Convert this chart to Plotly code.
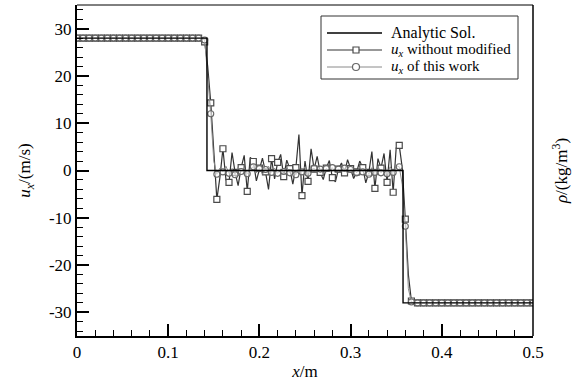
import plotly.graph_objects as go

# ---- data ----
dx = 1.0 / 300.0
n_pts = 151
x_grid = [i * dx for i in range(n_pts)]

analytic_x = [0.0, 0.1425, 0.1425, 0.3575, 0.3575, 0.5]
analytic_y = [28.0, 28.0, 0.0, 0.0, -28.0, -28.0]

# u_x without modified (index 0..150)
ux_without = ([28.0] * 42 +
              [27.2, 22.0, 14.3, 3.0, -6.1, -1.5, 4.6, -2.0, -2.5, 3.8,
               -0.4, -3.2, 0.6, 3.2, -4.4, 2.8, 1.9, -2.2, 0.5, 2.6,
               -0.3, -4.0, 2.5, -1.8, 1.7, 3.4, -1.3, 2.2, 0.4, -2.9,
               0.6, 7.6, -5.3, 2.0, -2.3, 4.6, 0.3, 3.0, -0.4, -1.9,
               0.5, 2.1, -1.5, -2.4, 0.3, 1.6, -0.5, 2.3, 0.4, -1.7,
               -0.3, 2.0, 0.6, -2.6, -0.4, 4.0, -3.8, 2.5, 0.5, 3.6,
               -2.5, 4.4, -4.6, 4.8, 5.3, 0.5, -10.3, -22.0, -27.6] +
              [-28.0] * 40)

# u_x of this work
ux_this = ([28.0] * 42 +
           [27.6, 20.0, 12.0, 2.0, -0.8, 0.5, -0.3, 0.9, -0.6, 0.4,
            -0.9, 0.7, -0.2, 0.6, -0.7, 0.3, 0.8, -0.5, 0.4, -0.8,
            0.2, 0.9, -0.4, 0.5, -0.6, 0.3, -0.2, 0.7, -0.5, 0.4,
            -0.9, 0.6, -0.3, 0.8, -0.6, 0.2, 0.5, -0.4, 0.3, -0.7,
            0.4, -0.2, 0.6, -0.5, 0.3, -0.3, 0.5, -0.6, 0.2, 0.4,
            -0.5, 0.7, -0.3, 0.5, -0.8, 0.6, -0.4, 0.9, -0.5, 0.3,
            -0.7, 0.8, -0.4, 1.0, 0.8, -3.0, -11.8, -25.0, -27.8] +
           [-28.0] * 40)

marker_every = 2

x_tickvals = [0, 0.1, 0.2, 0.3, 0.4, 0.5]
x_ticktext = ["0", "0.1", "0.2", "0.3", "0.4", "0.5"]
y_tickvals = [-30, -20, -10, 0, 10, 20, 30]
y_ticktext = ["-30", "-20", "-10", "0", "10", "20", "30"]

legend_labels = ["Analytic Sol.",
                 "<i>u</i><sub><i>x</i></sub> without modified",
                 "<i>u</i><sub><i>x</i></sub> of this work"]

FONT = "Times New Roman, Liberation Serif, serif"
W_LINE = "#333333"
T_LINE = "#8a8a8a"
MK_EDGE = "#4a4a4a"
C_EDGE = "#666666"

# plot-area geometry in pixels (for the hand-made legend box)
W, H = 584, 385
ML, MR, MT, MB = 77, 51, 5, 49
PW, PH = W - ML - MR, H - MT - MB


def px(xp):
    return (xp - ML) / PW


def py(yp):
    return (H - MB - yp) / PH


fig = go.Figure()

mk_x = x_grid[::marker_every]

fig.add_trace(go.Scatter(x=x_grid, y=ux_without, mode="lines",
                         line=dict(color=W_LINE, width=1.2),
                         showlegend=False, hoverinfo="skip"))
fig.add_trace(go.Scatter(x=mk_x, y=ux_without[::marker_every], mode="markers",
                         marker=dict(symbol="square", size=6, color="white",
                                     line=dict(color=MK_EDGE, width=1.2)),
                         showlegend=False, hoverinfo="skip"))
fig.add_trace(go.Scatter(x=x_grid, y=ux_this, mode="lines",
                         line=dict(color=T_LINE, width=1.0),
                         showlegend=False, hoverinfo="skip"))
fig.add_trace(go.Scatter(x=mk_x, y=ux_this[::marker_every], mode="markers",
                         marker=dict(symbol="circle", size=6, color="rgba(255,255,255,0.6)",
                                     line=dict(color=C_EDGE, width=1.1)),
                         showlegend=False, hoverinfo="skip"))
fig.add_trace(go.Scatter(x=analytic_x, y=analytic_y, mode="lines",
                         line=dict(color="black", width=1.4),
                         showlegend=False, hoverinfo="skip"))

# right-side axis (title only)
fig.add_trace(go.Scatter(x=[None], y=[None], yaxis="y2", showlegend=False))

# ---- hand-made legend ----
shapes = [
    dict(type="line", xref="paper", yref="paper", x0=0, x1=1, y0=1, y1=1,
         line=dict(color="black", width=1)),
    dict(type="line", xref="paper", yref="paper", x0=1, x1=1, y0=0, y1=1,
         line=dict(color="black", width=1.5)),
    dict(type="rect", xref="paper", yref="paper", x0=px(321), x1=px(518),
         y0=py(79), y1=py(16), line=dict(color="#333333", width=1), fillcolor="white",
         layer="above"),
]
row_y = [33, 50, 67]
row_colors = ["black", W_LINE, T_LINE]
row_widths = [1.4, 1.2, 1.0]
row_font = [16, 15, 15]
annotations = []
for k in range(3):
    shapes.append(dict(type="line", xref="paper", yref="paper", x0=px(327), x1=px(382),
                       y0=py(row_y[k]), y1=py(row_y[k]),
                       line=dict(color=row_colors[k], width=row_widths[k]), layer="above"))
    annotations.append(dict(xref="paper", yref="paper", x=px(389), y=py(row_y[k]),
                            xanchor="left", yanchor="middle", showarrow=False,
                            text=legend_labels[k], font=dict(family=FONT, size=row_font[k])))
shapes.append(dict(type="rect", xref="paper", yref="paper", xsizemode="pixel", ysizemode="pixel",
                   xanchor=px(356), yanchor=py(row_y[1]), x0=-3, x1=3, y0=-3, y1=3,
                   line=dict(color=MK_EDGE, width=1.2), fillcolor="white", layer="above"))
shapes.append(dict(type="circle", xref="paper", yref="paper", xsizemode="pixel", ysizemode="pixel",
                   xanchor=px(356), yanchor=py(row_y[2]), x0=-3.5, x1=3.5, y0=-3.5, y1=3.5,
                   line=dict(color=C_EDGE, width=1.2), fillcolor="white", layer="above"))

fig.update_layout(
    width=W, height=H,
    margin=dict(l=ML, r=MR, t=MT, b=MB),
    paper_bgcolor="white", plot_bgcolor="white",
    font=dict(family=FONT, size=16, color="black"),
    showlegend=False,
    xaxis=dict(range=[0, 0.5], tickvals=x_tickvals, ticktext=x_ticktext,
               showgrid=False, zeroline=False,
               showline=True, linecolor="black", linewidth=2,
               ticks="inside", ticklen=12, tickwidth=2, tickcolor="black",
               minor=dict(dtick=0.02, tick0=0, ticks="inside", ticklen=6, tickwidth=1,
                          tickcolor="black"),
               tickfont=dict(family=FONT, size=17),
               title=dict(text="<i>x</i>/m", font=dict(family=FONT, size=17), standoff=4)),
    yaxis=dict(range=[-35, 35], tickvals=y_tickvals, ticktext=y_ticktext,
               showgrid=False, zeroline=False,
               showline=True, linecolor="black", linewidth=2,
               ticks="inside", ticklen=12, tickwidth=2, tickcolor="black",
               minor=dict(dtick=2, tick0=0, ticks="inside", ticklen=6, tickwidth=1,
                          tickcolor="black"),
               tickfont=dict(family=FONT, size=17),
               title=dict(text="<i>u</i><sub><i>x</i></sub>/(m/s)", font=dict(family=FONT, size=17),
                          standoff=14)),
    yaxis2=dict(overlaying="y", side="right", range=[-35, 35], showgrid=False,
                zeroline=False, showline=False, showticklabels=False, ticks="",
                title=dict(text="<i>ρ</i>/(kg/m<sup>3</sup>)", font=dict(family=FONT, size=17),
                           standoff=22)),
    shapes=shapes,
    annotations=annotations,
)

fig.write_html("out.html")
